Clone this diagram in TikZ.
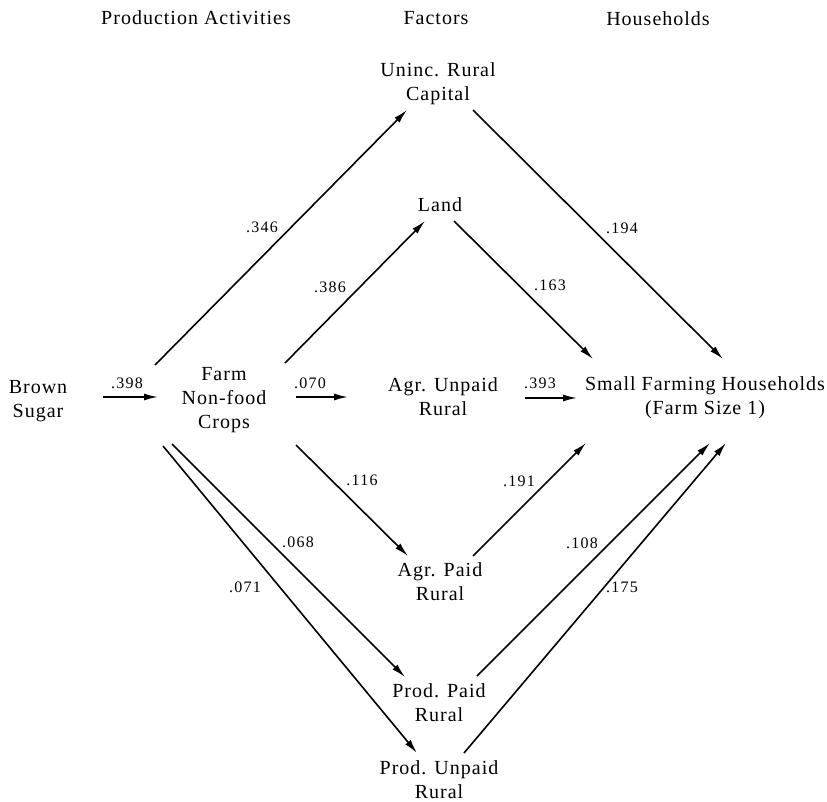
\documentclass[tikz,border=0pt]{standalone}
\usepackage{fontspec}
\setmainfont{Liberation Serif}[LetterSpace=5]
\newfontfamily\labfont{Liberation Serif}[LetterSpace=8]
\usetikzlibrary{arrows.meta,calc}
\tikzset{
  txt/.style={anchor=base, align=center, inner sep=0pt, font=\fontsize{20}{24}\selectfont},
  lab/.style={anchor=center, inner sep=0pt, font=\labfont\fontsize{16}{18}\selectfont},
  arr/.style={line width=1.6pt, -{Latex[length=14pt,width=7pt]}}
}
\begin{document}
\begin{tikzpicture}[x=1pt,y=-1pt]
\fill[white] (0,0) rectangle (827,802);
\useasboundingbox (0,0) rectangle (827,802);
% headers
\node[txt] (hprod) at (196,25) {Production Activities};
\node[txt] (hfac) at (436,25) {Factors};
\node[txt] (hhh) at (658,26) {Households};
% nodes (anchored at the baseline of their last line)
\node[txt] (unin) at (438,101) {Uninc. Rural\\Capital};
\node[txt] (land) at (440,212) {Land};
\node[txt] (brown) at (38,417) {Brown\\Sugar};
\node[txt] (farm) at (224,428) {Farm\\Non-food\\Crops};
\node[txt] (agrunp) at (443,415) {Agr. Unpaid\\Rural};
\node[txt] (sfh) at (705,414) {Small Farming Households\\(Farm Size 1)};
\node[txt] (agrpaid) at (440,600) {Agr. Paid\\Rural};
\node[txt] (prodpaid) at (439,721) {Prod. Paid\\Rural};
\node[txt] (produnp) at (439,798) {Prod. Unpaid\\Rural};
% connectors
\draw[arr] ($(brown.base)+(65,-20)$) -- ($(farm.base)+(-66,-31)$);
\draw[arr] ($(farm.base)+(72,-31)$) -- ($(agrunp.base)+(-95,-18)$);
\draw[arr] ($(agrunp.base)+(82,-17)$) -- ($(sfh.base)+(-128,-16)$);
\draw[arr] ($(farm.base)+(-69,-63)$) -- ($(unin.base)+(-31,9)$);
\draw[arr] ($(farm.base)+(61,-65)$) -- ($(land.base)+(-15,9)$);
\draw[arr] ($(unin.base)+(35,9)$) -- ($(sfh.base)+(18,-55)$);
\draw[arr] ($(land.base)+(14,9)$) -- ($(sfh.base)+(-112,-55)$);
\draw[arr] ($(farm.base)+(72,17)$) -- ($(agrpaid.base)+(-32,-44)$);
\draw[arr] ($(agrpaid.base)+(33,-44)$) -- ($(sfh.base)+(-119,29)$);
\draw[arr] ($(farm.base)+(-52,16)$) -- ($(prodpaid.base)+(-34,-44)$);
\draw[arr] ($(farm.base)+(-61,18)$) -- ($(produnp.base)+(-22,-45)$);
\draw[arr] ($(prodpaid.base)+(38,-45)$) -- ($(sfh.base)+(5,29)$);
\draw[arr] ($(produnp.base)+(25,-45)$) -- ($(sfh.base)+(21,29)$);
% labels
\node[lab] (l398) at (127,383) {.398};
\node[lab] (l070) at (310,383) {.070};
\node[lab] (l393) at (540,383) {.393};
\node[lab] (l346) at (262,227) {.346};
\node[lab] (l386) at (330,287) {.386};
\node[lab] (l194) at (622,228) {.194};
\node[lab] (l163) at (550,285) {.163};
\node[lab] (l116) at (362,480) {.116};
\node[lab] (l191) at (519,481) {.191};
\node[lab] (l068) at (298,542) {.068};
\node[lab] (l071) at (245,587) {.071};
\node[lab] (l108) at (582,543) {.108};
\node[lab] (l175) at (622,587) {.175};
\end{tikzpicture}
\end{document}
